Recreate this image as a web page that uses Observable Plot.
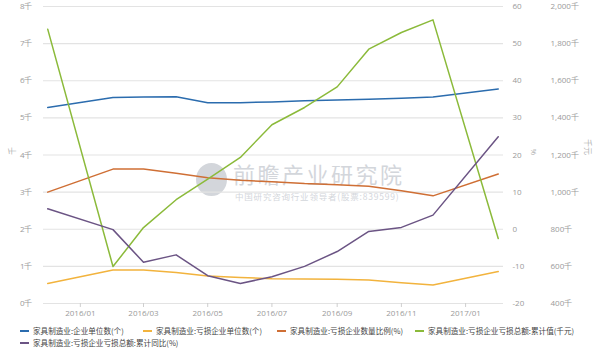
<!DOCTYPE html>
<html>
<head>
<meta charset="utf-8">
<script src="https://cdn.jsdelivr.net/npm/d3@7"></script>
<script src="https://cdn.jsdelivr.net/npm/@observablehq/plot@0.6"></script>
<style>
  html, body { margin: 0; padding: 0; background: #fff; }
  #wrap { position: relative; width: 600px; height: 360px; overflow: hidden; }
  #chart { position: relative; z-index: 1; }
  #wm { position: absolute; left: 0; top: 0; width: 600px; height: 320px; z-index: 0; pointer-events: none; }
  #wm .logo { position: absolute; left: 196px; top: 163px; width: 31px; height: 33px; border-radius: 50%; background: #d3d6db; }
  #wm .big { position: absolute; left: 233px; top: 162px; font: 22px "Noto Sans CJK SC", sans-serif; letter-spacing: 2.5px; color: #d3d6db; white-space: nowrap; line-height: 22px; height: 22px; }
  #wm .small { position: absolute; left: 235px; top: 192px; font: 8.5px "Noto Sans CJK SC", sans-serif; letter-spacing: 0.8px; color: #d3d6db; white-space: nowrap; line-height: 8.5px; }
  #legend { position: absolute; left: 20px; top: 325px; width: 578px; display: flex; flex-wrap: wrap; column-gap: 0px; row-gap: 1px; font: 7.6px "Noto Sans CJK SC", sans-serif; color: #444; }
  #legend .item { display: flex; align-items: center; height: 11px; white-space: nowrap; }
  #legend .item:nth-child(1) { width: 123px; }
  #legend .item:nth-child(2) { width: 134px; }
  #legend .item:nth-child(3) { width: 138px; }
  #legend .sw { width: 9px; height: 2px; margin-right: 4px; }
</style>
</head>
<body>
<div id="wrap">
  <div id="wm"><div class="logo"></div><div class="big">前瞻产业研究院</div><div class="small">中国研究咨询行业领导者(股票:839599)</div></div>
  <div id="chart"></div>
  <div id="legend"></div>
</div>
<script>
// ---- data ----
const months = ["2015-12","2016-02","2016-03","2016-04","2016-05","2016-06","2016-07","2016-08","2016-09","2016-10","2016-11","2016-12","2017-02"];
const firmCount = [5280,5550,5560,5570,5410,5410,5430,5460,5480,5500,5530,5560,5780];          // 个
const lossFirmCount = [540,900,900,835,740,700,670,660,650,630,560,500,860];                  // 个
const lossFirmRatio = [10.0,16.2,16.2,15.1,13.9,13.2,12.8,12.3,12.0,11.6,10.4,9.0,14.9];       // %
const lossTotal = [1878000,599000,809000,959000,1070000,1187000,1363000,1456000,1567000,1770000,1860000,1928000,750000]; // 千元
const lossTotalYoY = [5.5,-0.1,-8.9,-6.9,-12.5,-14.6,-12.8,-10.0,-6.0,-0.6,0.5,3.8,24.9];     // %

const seriesNames = [
  "家具制造业:企业单位数(个)",
  "家具制造业:亏损企业单位数(个)",
  "家具制造业:亏损企业数量比例(%)",
  "家具制造业:亏损企业亏损总额:累计值(千元)",
  "家具制造业:亏损企业亏损总额:累计同比(%)"
];
const seriesColors = ["#2b6cae", "#f2b33d", "#cf6f35", "#8bba3a", "#6b5484"];

const xTickLabels = ["2016-01","2016-03","2016-05","2016-07","2016-09","2016-11","2017-01"];
const leftTicks = [0,1000,2000,3000,4000,5000,6000,7000,8000];
const pctTicks = [-20,-10,0,10,20,30,40,50,60];
const amtTicks = [400000,600000,800000,1000000,1200000,1400000,1600000,1800000,2000000];

// ---- mapping of secondary axes onto the left scale ----
const pctToY = p => (p + 20) / 80 * 8000;
const amtToY = v => (v - 400000) / 1600000 * 8000;

const rows = months.map((m, i) => ({
  date: new Date(m + "-01"),
  a: firmCount[i],
  b: lossFirmCount[i],
  c: pctToY(lossFirmRatio[i]),
  d: amtToY(lossTotal[i]),
  e: pctToY(lossTotalYoY[i])
}));
const keys = ["a","b","c","d","e"];

const axisFont = {fontSize: 8, fill: "#9a9a9a", fontFamily: "'Open Sans', sans-serif"};
const fmtAmt = v => d3.format(",")(v / 1000) + "千";

const chart = Plot.plot({
  width: 600,
  height: 320,
  marginLeft: 43,
  marginRight: 97,
  marginTop: 6,
  marginBottom: 17,
  style: {background: "transparent", fontFamily: "'Open Sans', sans-serif"},
  x: {type: "utc", domain: [new Date("2015-11-27"), new Date("2017-02-06")]},
  y: {domain: [0, 8000]},
  marks: [
    Plot.gridY(leftTicks, {stroke: "#e3e3e3", strokeOpacity: 1, strokeWidth: 1.2}),
    Plot.axisY({ticks: leftTicks, tickSize: 0, tickPadding: 11, tickFormat: d => d / 1000 + "千", label: null, ...axisFont}),
    Plot.text(["千"], {frameAnchor: "left", dx: -31, rotate: -90, ...axisFont, fontFamily: "'Noto Sans CJK SC', sans-serif", fill: "#b0b0b0"}),
    Plot.text(pctTicks, {y: p => pctToY(p), text: p => String(p), frameAnchor: "right", dx: 9, textAnchor: "start", ...axisFont}),
    Plot.text(["%"], {frameAnchor: "right", dx: 30, rotate: 90, ...axisFont, fill: "#b0b0b0"}),
    Plot.text(amtTicks, {y: v => amtToY(v), text: fmtAmt, frameAnchor: "right", dx: 47, textAnchor: "start", ...axisFont}),
    Plot.text(["千元"], {frameAnchor: "right", dx: 84, rotate: 90, ...axisFont, fontFamily: "'Noto Sans CJK SC', sans-serif", fill: "#b0b0b0"}),
    Plot.axisX({ticks: xTickLabels.map(m => new Date(m + "-01")), tickFormat: d3.utcFormat("%Y/%m"), tickSize: 4, tickPadding: 3, stroke: "#cfcfcf", label: null, ...axisFont}),
    ...keys.map((k, i) => Plot.line(rows, {x: "date", y: k, stroke: seriesColors[i], strokeWidth: 1.5}))
  ]
});
document.getElementById("chart").appendChild(chart);

const legend = document.getElementById("legend");
seriesNames.forEach((name, i) => {
  const item = document.createElement("div");
  item.className = "item";
  const sw = document.createElement("span");
  sw.className = "sw";
  sw.style.background = seriesColors[i];
  const t = document.createElement("span");
  t.textContent = name;
  item.appendChild(sw);
  item.appendChild(t);
  legend.appendChild(item);
});
</script>
</body>
</html>
